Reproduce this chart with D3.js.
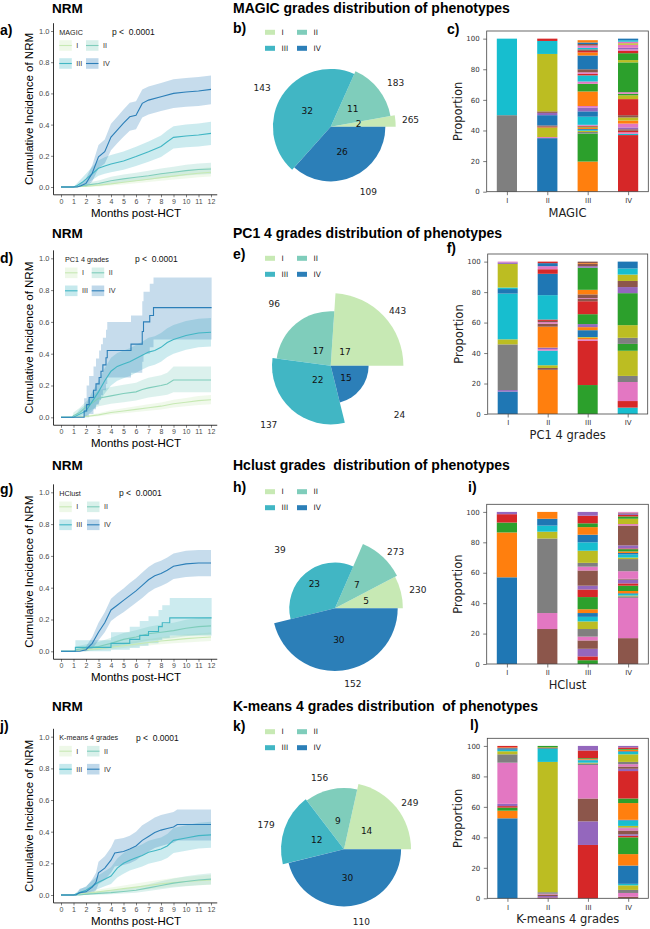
<!DOCTYPE html>
<html><head><meta charset="utf-8">
<script src="https://cdn.jsdelivr.net/npm/d3@7"></script>
<style>
body{margin:0;background:#fff;}
svg text{white-space:pre;}
</style></head><body>
<svg id="fig" width="650" height="929"></svg>
<script>
// ---------------- DATA ----------------
const gradeLabels = ["I","II","III","IV"];
const gradeColors = ["#c7e9b4","#7fcdbb","#41b6c4","#2c7fb8"];
const monthTicks = [0,1,2,3,4,5,6,7,8,9,10,11,12];
const cifTicks = [0,0.2,0.4,0.6,0.8,1.0];
const propTicks = [0,20,40,60,80,100];
const gradingNames = ["MAGIC","PC1 4 grades","HClust","K-means 4 grades"];
const pieTitles = ["MAGIC grades distribution of phenotypes","PC1 4 grades distribution of phenotypes","Hclust grades  distribution of phenotypes","K-means 4 grades distribution  of phenotypes"];
const panelLetters = [["a)","b)","c)"],["d)","e)","f)"],["g)","h)","i)"],["j)","k)","l)"]];
const pValues = ["p <  0.0001","p <  0.0001","p <  0.0001","p <  0.0001"];

// cumulative incidence: [month, estimate, lower, upper]
const magicCifI = [[0,0,0,0],[1,0,0,0],[2,0.005,0,0.015],[3,0.012,0.004,0.025],[4,0.02,0.009,0.035],[5,0.03,0.016,0.047],[6,0.04,0.024,0.06],[7,0.05,0.032,0.072],[8,0.06,0.04,0.085],[9,0.07,0.048,0.097],[10,0.08,0.055,0.108],[11,0.088,0.062,0.118],[12,0.095,0.067,0.127]];
const magicCifII = [[0,0,0,0],[1,0,0,0],[1.5,0.005,0,0.015],[2,0.012,0.002,0.026],[3,0.022,0.008,0.042],[4,0.04,0.02,0.066],[5,0.052,0.03,0.08],[6,0.062,0.038,0.092],[7,0.072,0.046,0.104],[8,0.085,0.057,0.118],[9,0.095,0.065,0.13],[10,0.105,0.074,0.142],[11,0.112,0.08,0.15],[12,0.115,0.083,0.155]];
const magicCifIII = [[0,0,0,0],[1,0,0,0],[1.3,0.01,0,0.025],[1.7,0.03,0.007,0.06],[2,0.05,0.02,0.085],[2.5,0.085,0.045,0.13],[3,0.12,0.072,0.172],[3.5,0.135,0.085,0.19],[4,0.148,0.095,0.205],[5,0.167,0.11,0.228],[6,0.195,0.135,0.258],[7,0.226,0.162,0.292],[8,0.26,0.192,0.33],[8.5,0.29,0.22,0.362],[9,0.318,0.246,0.39],[10,0.327,0.255,0.4],[11,0.333,0.26,0.407],[12,0.344,0.27,0.418]];
const magicCifIV = [[0,0,0,0],[1.3,0,0,0],[1.6,0.008,0,0.025],[2,0.023,0,0.055],[2.5,0.088,0.035,0.14],[3,0.194,0.12,0.27],[3.5,0.226,0.15,0.305],[4,0.32,0.235,0.405],[4.5,0.365,0.28,0.45],[5,0.41,0.322,0.497],[5.5,0.45,0.36,0.54],[6,0.46,0.37,0.55],[6.5,0.536,0.445,0.625],[7,0.557,0.465,0.645],[8,0.579,0.487,0.667],[9,0.6,0.507,0.69],[10,0.609,0.515,0.698],[11,0.615,0.52,0.705],[12,0.626,0.53,0.715]];

const pc1CifI = [[0,0,0,0],[1,0,0,0],[2,0.005,0,0.013],[3,0.015,0.006,0.026],[4,0.03,0.017,0.045],[5,0.04,0.025,0.057],[6,0.05,0.033,0.07],[7,0.06,0.041,0.082],[8,0.07,0.049,0.093],[9,0.085,0.062,0.11],[10,0.095,0.07,0.122],[11,0.105,0.078,0.134],[12,0.11,0.082,0.14]];
const pc1CifII = [[0,0,0,0],[0.9,0,0,0],[1,0.01,0,0.03],[1.5,0.03,0.005,0.06],[2,0.065,0.03,0.1],[2.5,0.09,0.05,0.135],[3,0.12,0.07,0.17],[4,0.135,0.085,0.19],[5,0.15,0.095,0.205],[6,0.16,0.105,0.218],[6.5,0.175,0.115,0.235],[7,0.185,0.125,0.248],[8,0.2,0.135,0.265],[8.5,0.21,0.142,0.28],[9,0.235,0.158,0.32],[12,0.235,0.158,0.32]];
const pc1CifIII = [[0,0,0,0],[1,0,0,0],[1.5,0.02,0,0.05],[2,0.04,0.005,0.08],[2.5,0.1,0.04,0.16],[3,0.16,0.09,0.23],[3.5,0.23,0.15,0.31],[4,0.29,0.2,0.375],[4.5,0.32,0.23,0.405],[5,0.335,0.245,0.42],[5.5,0.35,0.26,0.435],[6,0.37,0.28,0.455],[6.5,0.39,0.3,0.475],[7,0.41,0.32,0.5],[7.5,0.42,0.33,0.51],[8,0.44,0.35,0.53],[8.5,0.47,0.38,0.56],[9,0.49,0.4,0.58],[10,0.515,0.425,0.605],[11,0.53,0.44,0.62],[12,0.535,0.445,0.625]];
const pc1CifIV = [[0,0,0,0],[1.85,0.04,0,0.12],[2.05,0.08,0,0.2],[2.25,0.125,0.02,0.26],[2.6,0.17,0.05,0.32],[2.8,0.21,0.08,0.37],[3.05,0.25,0.11,0.42],[3.2,0.29,0.14,0.46],[3.35,0.33,0.17,0.5],[3.6,0.375,0.21,0.55],[3.7,0.42,0.25,0.6],[5.6,0.46,0.28,0.64],[6.5,0.54,0.35,0.73],[6.6,0.6,0.4,0.79],[7.1,0.64,0.44,0.84],[7.4,0.69,0.49,0.88],[12.5,0.69,0.49,0.88]];

const hcCifI = [[0,0,0,0],[1,0,0,0],[2,0.01,0,0.022],[3,0.017,0.006,0.03],[4,0.025,0.012,0.042],[5,0.035,0.02,0.053],[6,0.045,0.028,0.065],[7,0.055,0.036,0.077],[8,0.065,0.044,0.089],[9,0.072,0.05,0.097],[10,0.08,0.056,0.106],[11,0.085,0.06,0.112],[12,0.09,0.064,0.118]];
const hcCifII = [[0,0,0,0],[1.1,0,0,0],[1.2,0.01,0,0.03],[2,0.02,0.005,0.045],[3,0.03,0.01,0.058],[4,0.05,0.022,0.085],[5,0.075,0.04,0.115],[6,0.09,0.052,0.132],[7,0.11,0.068,0.155],[8,0.12,0.075,0.168],[9,0.13,0.083,0.18],[10,0.145,0.095,0.198],[11,0.155,0.103,0.21],[12,0.16,0.107,0.215]];
const hcCifIII = [[0,0,0,0],[1.15,0.025,0,0.07],[4,0.05,0.01,0.12],[5.5,0.075,0.02,0.155],[6.3,0.1,0.035,0.19],[7,0.125,0.05,0.22],[7.8,0.155,0.07,0.26],[8.1,0.18,0.085,0.29],[8.7,0.21,0.1,0.335],[12.5,0.21,0.1,0.335]];
const hcCifIV = [[0,0,0,0],[1.5,0,0,0],[2,0.01,0,0.03],[2.5,0.05,0.015,0.09],[3,0.12,0.07,0.18],[3.5,0.18,0.12,0.245],[4,0.26,0.19,0.33],[4.5,0.29,0.22,0.365],[5,0.32,0.245,0.395],[5.5,0.35,0.275,0.43],[6,0.38,0.305,0.46],[6.5,0.415,0.335,0.495],[7,0.45,0.37,0.53],[7.5,0.475,0.395,0.555],[8,0.49,0.41,0.57],[8.5,0.51,0.43,0.59],[9,0.535,0.455,0.615],[10,0.55,0.468,0.632],[11,0.555,0.472,0.637],[12,0.555,0.472,0.637]];

const kmCifI = [[0,0,0,0],[1,0,0,0],[2,0.01,0,0.022],[3,0.02,0.008,0.035],[4,0.03,0.015,0.047],[5,0.04,0.022,0.06],[6,0.05,0.03,0.072],[7,0.06,0.037,0.085],[8,0.07,0.045,0.097],[9,0.078,0.052,0.107],[10,0.085,0.057,0.115],[11,0.09,0.061,0.122],[12,0.095,0.065,0.128]];
const kmCifII = [[0,0,0,0],[1.5,0,0,0],[2,0.005,0,0.015],[3,0.01,0.002,0.022],[4,0.015,0.005,0.03],[5,0.022,0.009,0.04],[6,0.03,0.014,0.05],[7,0.045,0.025,0.068],[8,0.06,0.036,0.087],[9,0.075,0.048,0.105],[10,0.085,0.055,0.118],[11,0.095,0.062,0.13],[12,0.1,0.066,0.137]];
const kmCifIII = [[0,0,0,0],[1,0,0,0],[1.5,0.015,0,0.035],[2,0.03,0.01,0.055],[2.5,0.055,0.025,0.09],[3,0.08,0.04,0.125],[3.5,0.1,0.055,0.15],[4,0.12,0.07,0.175],[4.5,0.17,0.11,0.23],[5,0.2,0.135,0.265],[5.5,0.22,0.155,0.287],[6,0.235,0.168,0.303],[6.5,0.25,0.18,0.32],[7,0.27,0.198,0.342],[7.5,0.28,0.207,0.353],[8,0.29,0.216,0.364],[8.5,0.31,0.234,0.386],[9,0.345,0.266,0.424],[10,0.36,0.28,0.44],[11,0.375,0.294,0.456],[12,0.38,0.298,0.462]];
const kmCifIV = [[0,0,0,0],[1.2,0,0,0],[1.5,0.015,0,0.04],[2,0.02,0,0.05],[2.5,0.05,0.01,0.1],[2.8,0.08,0.03,0.14],[3,0.14,0.07,0.21],[3.5,0.17,0.095,0.245],[4,0.22,0.14,0.3],[4.3,0.265,0.18,0.35],[5,0.275,0.19,0.36],[5.5,0.29,0.2,0.375],[6,0.31,0.22,0.4],[6.5,0.345,0.25,0.44],[7,0.37,0.275,0.465],[7.5,0.395,0.297,0.49],[8,0.41,0.31,0.505],[8.5,0.42,0.32,0.515],[9,0.43,0.33,0.525],[9.3,0.445,0.345,0.54],[12,0.445,0.345,0.54]];

// pies: inner numbers (wedge angle) and outer numbers (wedge radius, log)
const magicPieInner = [2,11,32,26];
const magicPieOuter = [265,183,143,109];
const pc1PieInner = [17,17,22,15];
const pc1PieOuter = [443,96,137,24];
const hcPieInner = [5,7,23,30];
const hcPieOuter = [230,273,39,152];
const kmPieInner = [14,9,12,30];
const kmPieOuter = [249,156,179,110];

// stacked phenotype proportions per grade: [phenotype colour slot (tab10), percent], bottom to top
const magicBarI = [[7,50],[9,50]];
const magicBarII = [[0,35],[6,0.7],[8,6.3],[3,0.5],[5,0.8],[0,6.7],[4,1.5],[5,1],[8,37.5],[9,8.5],[3,1.5]];
const magicBarIII = [[1,19.7],[2,18.3],[7,1],[8,0.8],[9,0.6],[0,0.6],[1,1],[2,0.5],[3,0.5],[4,0.3],[6,0.4],[9,5.3],[0,3.5],[4,2.5],[6,1],[1,9.5],[2,5],[6,1.5],[9,4],[3,1],[6,1],[5,2],[0,9],[1,2],[3,1],[5,1],[9,1],[6,1.5],[5,1],[0,1],[1,1.5]];
const magicBarIV = [[3,37],[9,0.8],[6,1],[3,1],[5,1],[4,1.2],[6,2.5],[1,2],[8,2],[5,1.5],[3,10.5],[8,2.5],[2,1],[6,1],[2,19.5],[8,1.5],[2,4.5],[3,1.5],[6,1],[4,1],[6,2],[8,1],[6,1],[9,1],[0,1]];

const pc1BarI = [[0,14.7],[4,1],[7,30],[8,3.3],[9,30],[0,3],[9,1],[8,15.5],[4,1],[6,0.5]];
const pc1BarII = [[1,29],[5,1.2],[8,1.8],[9,9.6],[6,1],[4,1],[1,13.7],[5,2],[6,1],[5,0.8],[3,0.9],[9,16],[0,14],[3,3],[6,2],[0,2],[3,1]];
const pc1BarIII = [[2,19],[3,29],[6,1],[1,1],[8,0.5],[0,4.5],[1,2],[4,2],[2,6.5],[3,8.5],[5,1.5],[6,0.5],[5,2.5],[1,3],[2,14.5],[4,1],[5,1.5],[1,0.5],[5,1]];
const pc1BarIV = [[9,4.2],[3,4.3],[6,12.5],[7,4],[8,16.5],[2,4.5],[7,4],[8,8.3],[2,21],[4,4],[5,4],[8,4.2],[9,4],[0,4.5]];

const hcBarI = [[0,57],[1,29.5],[2,6.5],[3,5.5],[4,1.5]];
const hcBarII = [[5,23],[6,10.5],[7,49],[8,4.5],[9,4],[0,4.5],[1,4.5]];
const hcBarIII = [[2,2.5],[3,2.5],[4,5],[5,5.5],[6,2.5],[7,5],[8,5],[9,3],[0,2.5],[1,2.5],[2,8],[3,5],[4,2.5],[5,10],[6,2.5],[7,2.5],[8,8],[9,5.5],[0,5],[1,5],[2,2.5],[3,5],[4,2.5]];
const hcBarIV = [[5,17],[6,26.5],[7,1],[8,0.5],[9,1],[0,0.5],[1,1.5],[2,3.5],[3,1.5],[4,2.5],[5,0.5],[6,5],[7,8],[8,1],[9,2],[0,1],[1,1],[2,1.5],[3,0.5],[4,2],[5,13],[6,1],[8,3.5],[2,1.5],[3,1],[4,1],[5,0.5],[6,0.5]];

const kmBarI = [[0,52.5],[1,5],[2,2],[3,1],[4,1.5],[6,27],[7,5.5],[8,2],[9,1],[0,1],[1,0.5],[3,1]];
const kmBarII = [[3,0.5],[4,1],[5,1],[6,0.5],[7,1],[8,85.5],[9,8.5],[0,0.5],[1,0.5],[2,1]];
const kmBarIII = [[3,35],[4,15.5],[5,15],[6,22],[7,1],[8,0.5],[9,1.5],[0,0.5],[1,0.5],[2,0.5],[3,5],[4,3]];
const kmBarIV = [[5,1],[6,2.5],[7,2],[8,3],[9,1],[0,12],[1,7.5],[2,11],[3,1],[4,1],[5,2.5],[6,1.5],[7,0.5],[8,1],[9,3.5],[0,0.5],[1,11],[2,3],[3,18],[4,1.5],[5,1.5],[6,1.5],[7,1.5],[8,5],[9,1.5],[0,0.5],[1,1],[2,0.5],[3,1],[4,1]];

// ---------------- LAYOUT ----------------
const tab10 = d3.schemeCategory10;
const FS = "'Liberation Sans', Arial, Helvetica, sans-serif";
const FD = "'DejaVu Sans', sans-serif";

const rows = [
 {titleY:12.5, letterKMY:34.5, letterPieY:33, letterBarY:34, barLetterX:447,
  km:{y1:31,y0:187,legX:59.3,legCol2:86,pX:112},
  pie:{cx:330.7,cy:126.7,R:65,labelR:71.5,innerR:28,legY:32.3},
  bar:{left:486.7,right:648.3,top:31,bottom:191.7}},
 {titleY:237.5, letterKMY:263, letterPieY:258.5, letterBarY:252.5, barLetterX:446.7,
  km:{y1:258.3,y0:417.3,legX:65,legCol2:91.7,pX:135},
  pie:{cx:330.7,cy:365.7,R:72.7,labelR:80,innerR:19.5,legY:258.3},
  bar:{left:487.7,right:647.7,top:254,bottom:414}},
 {titleY:469.5, letterKMY:494, letterPieY:492, letterBarY:492, barLetterX:468,
  km:{y1:492.3,y0:651.3,legX:59.3,legCol2:87,pX:119},
  pie:{cx:335,cy:608.3,R:70,labelR:76.5,innerR:32,legY:491.7},
  bar:{left:486.7,right:648.3,top:504.3,bottom:664}},
 {titleY:710.5, letterKMY:731, letterPieY:731, letterBarY:730, barLetterX:470,
  km:{y1:736.7,y0:895,legX:59.3,legCol2:87,pX:136},
  pie:{cx:344,cy:849.3,R:67,labelR:73.5,innerR:29,legY:731.7},
  bar:{left:487.3,right:648.3,top:738.3,bottom:898.3}}
];

const kmSets = [
 {series:[magicCifI,magicCifII,magicCifIII,magicCifIV], stepped:[false,false,false,false]},
 {series:[pc1CifI,pc1CifII,pc1CifIII,pc1CifIV], stepped:[false,false,false,true]},
 {series:[hcCifI,hcCifII,hcCifIII,hcCifIV], stepped:[false,false,true,false]},
 {series:[kmCifI,kmCifII,kmCifIII,kmCifIV], stepped:[false,false,false,false]}
];
const pieSets = [[magicPieInner,magicPieOuter],[pc1PieInner,pc1PieOuter],[hcPieInner,hcPieOuter],[kmPieInner,kmPieOuter]];
const barSets = [[magicBarI,magicBarII,magicBarIII,magicBarIV],[pc1BarI,pc1BarII,pc1BarIII,pc1BarIV],[hcBarI,hcBarII,hcBarIII,hcBarIV],[kmBarI,kmBarII,kmBarIII,kmBarIV]];

const svg = d3.select("#fig");
svg.append("rect").attr("width",650).attr("height",929).attr("fill","#fff");

function boldText(x,y,t,size){
  svg.append("text").attr("x",x).attr("y",y).text(t)
    .attr("font-family",FS).attr("font-weight","bold").attr("font-size",size).attr("fill","#000");
}

function drawKM(ri){
  const r = rows[ri], c = r.km, set = kmSets[ri];
  const g = svg.append("g");
  const x = d3.scaleLinear().domain([0,12]).range([61,211]);
  const y = d3.scaleLinear().domain([0,1]).range([c.y0,c.y1]);
  const clipId = "kmclip"+ri;
  svg.append("clipPath").attr("id",clipId).append("rect")
    .attr("x",x(-0.6)).attr("y",y(1.05)).attr("width",x(12.05)-x(-0.6)).attr("height",y(-0.05)-y(1.05));
  const pg = g.append("g").attr("clip-path",`url(#${clipId})`);
  set.series.forEach((s,i)=>{
    const curve = set.stepped[i]? d3.curveStepAfter : d3.curveLinear;
    pg.append("path").attr("d", d3.area().x(d=>x(d[0])).y0(d=>y(d[2])).y1(d=>y(d[3])).curve(curve)(s))
      .attr("fill",gradeColors[i]).attr("fill-opacity",0.27);
  });
  set.series.forEach((s,i)=>{
    const curve = set.stepped[i]? d3.curveStepAfter : d3.curveLinear;
    pg.append("path").attr("d", d3.line().x(d=>x(d[0])).y(d=>y(d[1])).curve(curve)(s))
      .attr("fill","none").attr("stroke",gradeColors[i]).attr("stroke-width",1.1);
  });
  // axes
  const xa = g.append("g").attr("transform",`translate(0,${y(-0.05)})`)
    .call(d3.axisBottom(x).tickValues(monthTicks).tickSize(2.5).tickPadding(1.5).tickFormat(d3.format("d")));
  xa.select(".domain").remove();
  xa.selectAll("text").attr("font-family",FS).attr("font-size",7).attr("fill","#4d4d4d");
  xa.selectAll("line").attr("stroke","#333").attr("stroke-width",0.6);
  const ya = g.append("g").attr("transform",`translate(${x(-0.6)},0)`)
    .call(d3.axisLeft(y).tickValues(cifTicks).tickSize(2.5).tickPadding(1.5).tickFormat(d3.format(".1f")));
  ya.select(".domain").remove();
  ya.selectAll("text").attr("font-family",FS).attr("font-size",7.5).attr("fill","#4d4d4d");
  ya.selectAll("line").attr("stroke","#333").attr("stroke-width",0.6);
  g.append("line").attr("x1",x(-0.6)).attr("x2",x(12.5)).attr("y1",y(-0.05)).attr("y2",y(-0.05)).attr("stroke","#000").attr("stroke-width",0.8);
  g.append("line").attr("x1",x(-0.6)).attr("x2",x(-0.6)).attr("y1",y(-0.05)).attr("y2",y(1.05)).attr("stroke","#000").attr("stroke-width",0.8);
  // titles
  g.append("text").attr("x",(x(-0.6)+x(12.6))/2).attr("y",c.y0+29.5).attr("text-anchor","middle")
    .attr("font-family",FS).attr("font-size",11.5).attr("fill","#000").text("Months post-HCT");
  g.append("text").attr("transform",`translate(33,${(y(1.05)+y(-0.05))/2}) rotate(-90)`).attr("text-anchor","middle")
    .attr("font-family",FS).attr("font-size",11.5).attr("fill","#000").text("Cumulative Incidence of NRM");
  // legend
  const ty = c.y1+1;
  g.append("text").attr("x",c.legX).attr("y",ty).attr("dominant-baseline","central")
    .attr("font-family",FS).attr("font-size",7.2).attr("fill","#222").text(gradingNames[ri]);
  g.append("text").attr("x",c.pX).attr("y",ty).attr("dominant-baseline","central")
    .attr("font-family",FS).attr("font-size",8.5).attr("fill","#111").text(pValues[ri]);
  gradeLabels.forEach((lab,i)=>{
    const kx = (i%2===0)? c.legX : c.legCol2;
    const ky = c.y1 + (i<2? 14.5 : 32.5);
    g.append("rect").attr("x",kx).attr("y",ky-5.3).attr("width",12.5).attr("height",10.6)
      .attr("fill",gradeColors[i]).attr("fill-opacity",0.3);
    g.append("line").attr("x1",kx).attr("x2",kx+12.5).attr("y1",ky).attr("y2",ky)
      .attr("stroke",gradeColors[i]).attr("stroke-width",1.1);
    g.append("text").attr("x",kx+17).attr("y",ky).attr("dominant-baseline","central")
      .attr("font-family",FS).attr("font-size",7.2).attr("fill","#333").text(lab);
  });
}

function drawPie(ri){
  const r = rows[ri], c = r.pie, [inner, outer] = pieSets[ri];
  const g = svg.append("g").attr("transform",`translate(${c.cx},${c.cy})`);
  const rs = d3.scaleLinear().domain([0, Math.log(d3.max(outer))]).range([0, c.R]);
  const arcs = d3.pie().sort(null).startAngle(Math.PI/2).endAngle(Math.PI/2 - 2*Math.PI)(inner);
  arcs.forEach((a,i)=>{
    g.append("path").attr("d", d3.arc().innerRadius(0).outerRadius(rs(Math.log(outer[i])))(a))
      .attr("fill",gradeColors[i]);
  });
  arcs.forEach((a,i)=>{
    const m = (a.startAngle + a.endAngle)/2;
    const sx = Math.sin(m), sy = -Math.cos(m);
    g.append("text").attr("x",c.labelR*sx).attr("y",c.labelR*sy)
      .attr("text-anchor", sx>0? "start":"end").attr("dominant-baseline","central")
      .attr("font-family",FD).attr("font-size",9).attr("fill","#222").text(outer[i]);
    g.append("text").attr("x",c.innerR*sx).attr("y",c.innerR*sy)
      .attr("text-anchor","middle").attr("dominant-baseline","central")
      .attr("font-family",FD).attr("font-size",9).attr("fill","#111").text(inner[i]);
  });
  // legend
  gradeLabels.forEach((lab,i)=>{
    const px = (i%2===0)? 265 : 297;
    const py = c.legY + (i<2? 0 : 16);
    svg.append("rect").attr("x",px).attr("y",py-2.5).attr("width",10).attr("height",5).attr("fill",gradeColors[i]);
    svg.append("text").attr("x",px+16.5).attr("y",py).attr("dominant-baseline","central")
      .attr("font-family",FD).attr("font-size",7.5).attr("fill","#222").text(lab);
  });
}

function drawBars(ri){
  const r = rows[ri], c = r.bar, bars = barSets[ri];
  const g = svg.append("g");
  const x = d3.scaleLinear().domain([-0.5,3.5]).range([c.left,c.right]);
  const y = d3.scaleLinear().domain([0,105]).range([c.bottom,c.top]);
  bars.forEach((segs,i)=>{
    const cum = d3.cumsum(segs.map(s=>s[1]));
    segs.forEach((s,j)=>{
      const v0 = j? cum[j-1] : 0, v1 = cum[j];
      g.append("rect").attr("x",x(i-0.25)).attr("width",x(i+0.25)-x(i-0.25))
        .attr("y",y(v1)).attr("height",y(v0)-y(v1)).attr("fill",tab10[s[0]]);
    });
  });
  g.append("rect").attr("x",c.left).attr("y",c.top).attr("width",c.right-c.left).attr("height",c.bottom-c.top)
    .attr("fill","none").attr("stroke","#444").attr("stroke-width",0.8);
  const ya = g.append("g").attr("transform",`translate(${c.left},0)`)
    .call(d3.axisLeft(y).tickValues(propTicks).tickSize(3.5).tickPadding(3.5));
  ya.select(".domain").remove();
  ya.selectAll("text").attr("font-family",FD).attr("font-size",7).attr("fill","#333");
  ya.selectAll("line").attr("stroke","#444").attr("stroke-width",0.7);
  const xa = g.append("g").attr("transform",`translate(0,${c.bottom})`)
    .call(d3.axisBottom(x).tickValues([0,1,2,3]).tickSize(3.5).tickPadding(3).tickFormat(d=>gradeLabels[d]));
  xa.select(".domain").remove();
  xa.selectAll("text").attr("font-family",FD).attr("font-size",7).attr("fill","#333");
  xa.selectAll("line").attr("stroke","#444").attr("stroke-width",0.7);
  g.append("text").attr("x",(c.left+c.right)/2).attr("y",c.bottom+25).attr("text-anchor","middle")
    .attr("font-family",FD).attr("font-size",11.5).attr("fill","#222").text(gradingNames[ri]);
  g.append("text").attr("transform",`translate(${c.left-25},${(c.top+c.bottom)/2}) rotate(-90)`).attr("text-anchor","middle")
    .attr("font-family",FD).attr("font-size",11.5).attr("fill","#222").text("Proportion");
}

rows.forEach((r,ri)=>{
  boldText(52, r.titleY, "NRM", 13.5);
  boldText(233, r.titleY, pieTitles[ri], 14);
  boldText(0, r.letterKMY, panelLetters[ri][0], 14);
  boldText(233, r.letterPieY, panelLetters[ri][1], 14);
  boldText(r.barLetterX, r.letterBarY, panelLetters[ri][2], 14);
  drawKM(ri);
  drawPie(ri);
  drawBars(ri);
});
</script>
</body></html>
